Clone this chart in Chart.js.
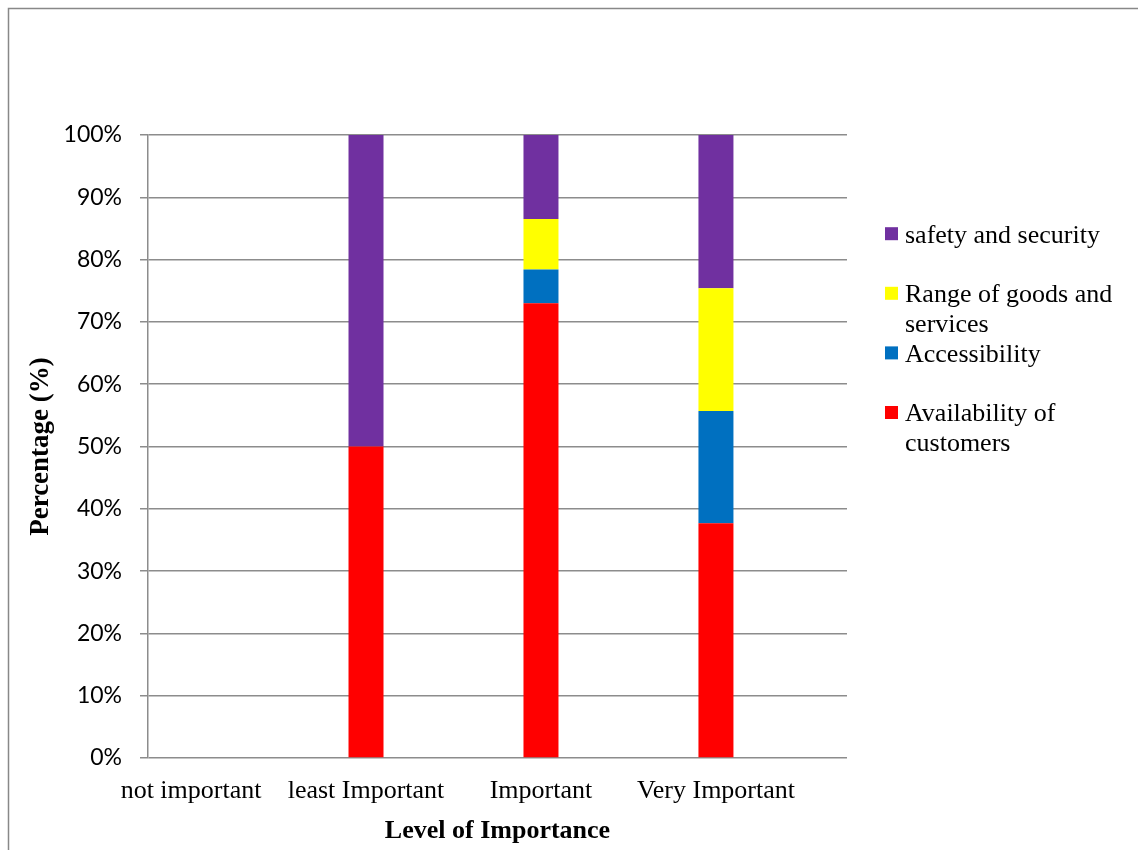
<!DOCTYPE html>
<html>
<head>
<meta charset="utf-8">
<script src="https://cdn.jsdelivr.net/npm/chart.js@4"></script>
<style>
  html, body { margin: 0; padding: 0; background: #fff; }
  #wrap { position: relative; width: 1138px; height: 850px; }
</style>
</head>
<body>
<div id="wrap"><canvas id="c" width="1138" height="850"></canvas></div>
<script>
// ---- data ----
const categories = ['not important', 'least Important', 'Important', 'Very Important'];
const availability = [0, 50, 73.0, 37.7];
const accessibility = [0, 0, 5.4, 18.0];
const rangeGoods = [0, 0, 8.1, 19.7];
const safety = [0, 50, 13.5, 24.6];
const seriesNames = ['Availability of customers', 'Accessibility', 'Range of goods and services', 'safety and security'];
const seriesColors = ['#FF0000', '#0070C0', '#FFFF00', '#7030A0'];
const yTicks = [0, 10, 20, 30, 40, 50, 60, 70, 80, 90, 100];

const seriesValues = [availability, accessibility, rangeGoods, safety];
const GRID = '#8c8c8c';

const datasets = seriesValues.map((vals, k) => ({
  label: seriesNames[k],
  data: vals.map((v, i) => ({ x: i, y: v })),
  backgroundColor: seriesColors[k],
  borderWidth: 0,
  categoryPercentage: 1,
  barPercentage: 0.2
}));

const framePlugin = {
  id: 'frame',
  beforeDraw(chart) {
    const ctx = chart.ctx;
    ctx.save();
    ctx.strokeStyle = '#888';
    ctx.lineWidth = 1.5;
    ctx.beginPath();
    ctx.moveTo(8.5, 850);
    ctx.lineTo(8.5, 8.5);
    ctx.lineTo(1138, 8.5);
    ctx.stroke();
    ctx.restore();
  }
};

const legendPlugin = {
  id: 'customLegend',
  afterDraw(chart) {
    const ctx = chart.ctx;
    ctx.save();
    ctx.font = '26px "Liberation Serif", "Times New Roman", serif';
    ctx.textBaseline = 'middle';
    ctx.fillStyle = '#000';
    const x0 = 885, textX = 905, box = 13, maxW = 220, itemGap = 59.6, lineGap = 30;
    let cy = 233.7;
    const ds = chart.data.datasets.slice().reverse();
    ds.forEach(d => {
      ctx.fillStyle = d.backgroundColor;
      ctx.fillRect(x0, cy - box / 2, box, box);
      ctx.fillStyle = '#000';
      const words = d.label.split(' ');
      const lines = [];
      let cur = '';
      words.forEach(w => {
        const t = cur ? cur + ' ' + w : w;
        if (ctx.measureText(t).width > maxW && cur) { lines.push(cur); cur = w; }
        else cur = t;
      });
      if (cur) lines.push(cur);
      lines.forEach((ln, j) => ctx.fillText(ln, textX, cy + 2 + j * lineGap));
      cy += itemGap;
    });
    ctx.restore();
  }
};

new Chart(document.getElementById('c'), {
  type: 'bar',
  data: { datasets },
  plugins: [framePlugin, legendPlugin],
  options: {
    responsive: false,
    animation: false,
    events: [],
    layout: { padding: { left: 10, right: 291, top: 135, bottom: 0 } },
    plugins: { legend: { display: false }, tooltip: { enabled: false } },
    scales: {
      x: {
        type: 'linear',
        stacked: true,
        offset: false,
        grace: 0,
        min: -0.246,
        max: 3.749,
        afterBuildTicks(scale) { scale.ticks = categories.map((_, i) => ({ value: i })); },
        afterFit(scale) { scale.height = 92; },
        grid: { display: false, drawTicks: false, offset: false },
        border: { display: false },
        ticks: {
          padding: 18,
          color: '#000',
          font: { family: '"Liberation Serif", "Times New Roman", serif', size: 26 },
          callback: (v) => categories[v] !== undefined ? categories[v] : ''
        },
        title: {
          display: true,
          text: 'Level of Importance',
          color: '#000',
          font: { family: '"Liberation Serif", "Times New Roman", serif', size: 26, weight: 'bold' },
          padding: { top: 0, bottom: 3 }
        }
      },
      y: {
        stacked: true,
        min: 0,
        max: 100,
        afterBuildTicks(scale) { scale.ticks = yTicks.map(v => ({ value: v })); },
        afterFit(scale) { scale.width = 138; },
        grid: { color: GRID, lineWidth: 1.5, tickLength: 8, drawTicks: true },
        border: { display: true, color: GRID, width: 1.5 },
        ticks: {
          padding: 18,
          color: '#000',
          font: { family: 'Lato, "Open Sans", sans-serif', size: 23 },
          callback: (v) => v + '%'
        },
        title: {
          display: true,
          text: 'Percentage (%)',
          color: '#000',
          font: { family: '"Liberation Serif", "Times New Roman", serif', size: 27, weight: 'bold' },
          padding: { top: 15, bottom: 0 }
        }
      }
    }
  }
});
</script>
</body>
</html>
